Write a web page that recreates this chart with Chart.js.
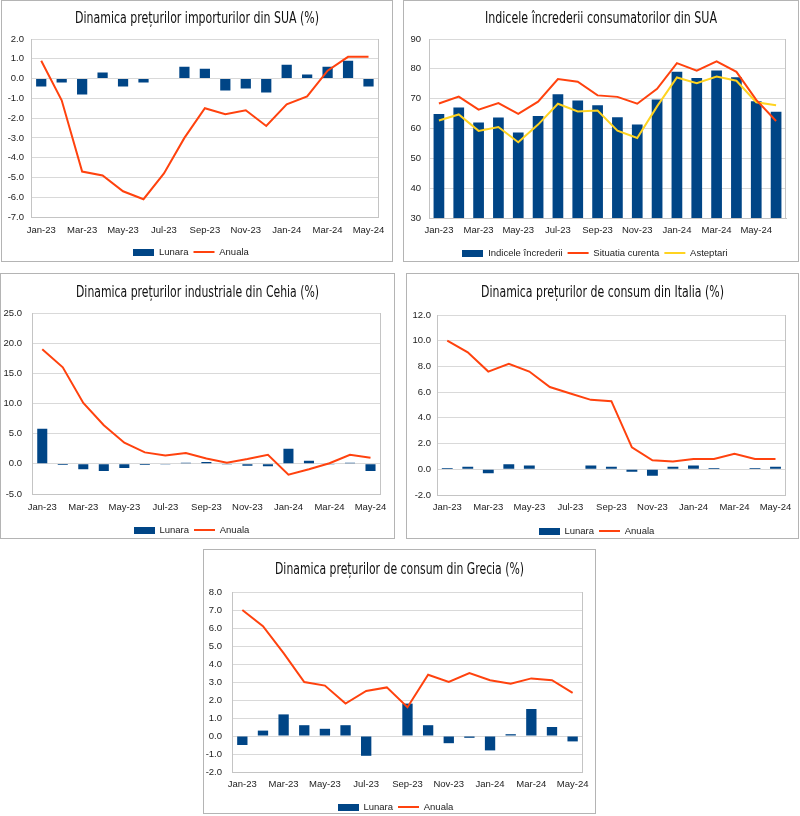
<!DOCTYPE html>
<html lang="ro">
<head>
<meta charset="UTF-8">
<title>Indicatori externi</title>
<script src="https://cdn.jsdelivr.net/npm/chart.js"></script>
<style>
  body { margin: 0; background: #fff; width: 800px; height: 816px; position: relative; overflow: hidden; }
  .box { position: absolute; border: 1px solid #b4b4b4; background: #fff; }
  .box canvas { display: block; }
</style>
</head>
<body>

<div class="box" style="left:1px;top:0px;width:390px;height:260px"><canvas id="c1" width="390" height="260"></canvas></div>
<div class="box" style="left:403px;top:0px;width:394px;height:260px"><canvas id="c2" width="394" height="260"></canvas></div>
<div class="box" style="left:0px;top:273px;width:393px;height:264px"><canvas id="c3" width="393" height="264"></canvas></div>
<div class="box" style="left:406px;top:273px;width:391px;height:264px"><canvas id="c4" width="391" height="264"></canvas></div>
<div class="box" style="left:203px;top:549px;width:391px;height:263px"><canvas id="c5" width="391" height="263"></canvas></div>

<script>
  // luni
  const luni = ['Jan-23', 'Feb-23', 'Mar-23', 'Apr-23', 'May-23', 'Jun-23', 'Jul-23', 'Aug-23', 'Sep-23',
                'Oct-23', 'Nov-23', 'Dec-23', 'Jan-24', 'Feb-24', 'Mar-24', 'Apr-24', 'May-24'];
  const luniIncredere = luni.concat(['Jun-24']);

  // SUA - preturi import
  const suaLunara = [-0.4, -0.2, -0.8, 0.3, -0.4, -0.2, 0.0, 0.6, 0.5, -0.6, -0.5, -0.7, 0.7, 0.2, 0.6, 0.9, -0.4];
  const suaAnuala = [0.9, -1.1, -4.7, -4.9, -5.7, -6.1, -4.8, -3.0, -1.5, -1.8, -1.6, -2.4, -1.3, -0.9, 0.4, 1.1, 1.1];

  // SUA - increderea consumatorilor
  const incredere = [64.9, 67.0, 62.0, 63.7, 58.7, 64.2, 71.5, 69.4, 67.8, 63.8, 61.3, 69.7, 79.0, 76.9, 79.4, 77.2, 69.1, 65.6];
  const situatiaCurenta = [68.4, 70.7, 66.3, 68.5, 64.9, 69.0, 76.6, 75.7, 71.1, 70.6, 68.3, 73.3, 81.9, 79.4, 82.5, 79.0, 69.6, 62.5];
  const asteptari = [62.7, 64.7, 59.2, 60.5, 55.4, 61.3, 68.3, 65.7, 66.0, 59.3, 56.8, 67.4, 77.1, 75.2, 77.4, 76.0, 68.8, 67.8];

  // Cehia - preturi industriale
  const cehiaLunara = [5.8, -0.2, -0.9, -1.2, -0.7, -0.2, -0.1, 0.2, 0.3, -0.1, -0.3, -0.4, 2.5, 0.5, -0.1, 0.2, -1.2];
  const cehiaAnuala = [19.0, 16.0, 10.1, 6.4, 3.5, 1.9, 1.4, 1.8, 0.9, 0.2, 0.8, 1.5, -1.8, -0.9, 0.1, 1.5, 1.0];

  // Italia - preturi de consum
  const italiaLunara = [0.1, 0.2, -0.3, 0.4, 0.3, 0.0, 0.0, 0.3, 0.2, -0.2, -0.5, 0.2, 0.3, 0.1, 0.0, 0.1, 0.2];
  const italiaAnuala = [10.0, 9.1, 7.6, 8.2, 7.6, 6.4, 5.9, 5.4, 5.3, 1.7, 0.7, 0.6, 0.8, 0.8, 1.2, 0.8, 0.8];

  // Grecia - preturi de consum
  const greciaLunara = [-0.5, 0.3, 1.2, 0.6, 0.4, 0.6, -1.1, 0.0, 1.8, 0.6, -0.4, -0.1, -0.8, 0.1, 1.5, 0.5, -0.3];
  const greciaAnuala = [7.0, 6.1, 4.6, 3.0, 2.8, 1.8, 2.5, 2.7, 1.6, 3.4, 3.0, 3.5, 3.1, 2.9, 3.2, 3.1, 2.4];

  const ALBASTRU = '#004586';
  const ROSU = '#ff420e';
  const GALBEN = '#ffd320';
  const TEXT = '#222';
  const FONT = "'Liberation Sans', Arial, sans-serif";
  const FONT_TITLU = "15.5px 'DejaVu Sans Condensed', 'Liberation Sans Narrow', sans-serif";

  Chart.defaults.font.family = FONT;

  // dreptunghi albastru pentru legenda barelor
  const legendaBara = document.createElement('canvas');
  legendaBara.width = 21;
  legendaBara.height = 7;
  const lctx = legendaBara.getContext('2d');
  lctx.fillStyle = ALBASTRU;
  lctx.fillRect(0, 0, 21, 7);

  // chenarul din dreapta al zonei de desen
  const cadruPlot = {
    id: 'cadruPlot',
    beforeDatasetsDraw(chart) {
      const { ctx, chartArea: a } = chart;
      ctx.save();
      ctx.strokeStyle = '#c4c4c4';
      ctx.lineWidth = 1;
      ctx.beginPath();
      ctx.moveTo(Math.round(a.right) - 0.5, a.top);
      ctx.lineTo(Math.round(a.right) - 0.5, a.bottom);
      ctx.stroke();
      ctx.restore();
    }
  };

  // titlu ingust (condensat), centrat deasupra graficului
  const titluIngust = {
    id: 'titluIngust',
    afterDraw(chart, args, opts) {
      const ctx = chart.ctx;
      ctx.save();
      ctx.font = FONT_TITLU;
      const w = ctx.measureText(opts.text).width;
      ctx.translate(chart.width / 2, opts.y);
      ctx.scale(opts.width / w, 1);
      ctx.textAlign = 'center';
      ctx.textBaseline = 'middle';
      ctx.fillStyle = '#111';
      ctx.fillText(opts.text, 0, 0);
      ctx.restore();
    }
  };

  function bara(label, data, lat) {
    return {
      type: 'bar', label: label, data: data, backgroundColor: ALBASTRU,
      barPercentage: lat, categoryPercentage: 1, order: 2, pointStyle: legendaBara
    };
  }

  function linie(label, data, color) {
    return {
      type: 'line', label: label, data: data, borderColor: color, backgroundColor: color,
      borderWidth: 2, pointRadius: 0, pointHoverRadius: 0, pointBorderWidth: 2,
      pointBorderColor: color, pointBackgroundColor: color, pointStyle: 'line',
      tension: 0, order: 1
    };
  }

  function deseneaza(id, cfg) {
    const canvas = document.getElementById(id);
    const W = canvas.width, H = canvas.height;
    const p = cfg.pos;
    const legendaSus = p.legend - 9.75;
    const legendaJos = legendaSus + 24.5;

    new Chart(canvas, {
      type: 'bar',
      data: { labels: cfg.labels, datasets: cfg.datasets },
      options: {
        responsive: false,
        animation: false,
        events: [],
        layout: { padding: { top: p.T, left: 0, right: W - p.R, bottom: H - legendaJos } },
        plugins: {
          titluIngust: { text: cfg.title, y: p.title, width: p.titleW },
          legend: {
            position: 'bottom',
            labels: {
              usePointStyle: true,
              pointStyleWidth: 21,
              padding: 5,
              color: TEXT,
              font: { size: 9.5 },
              sort: (a, b) => a.datasetIndex - b.datasetIndex
            }
          },
          tooltip: { enabled: false }
        },
        scales: {
          x: {
            grid: { display: false, drawTicks: false },
            border: { color: '#c4c4c4' },
            ticks: {
              autoSkip: false,
              maxRotation: 0,
              padding: p.xlab - p.B - 5.7,
              color: TEXT,
              font: { size: 9.5 },
              callback: function (v, i) { return i % 2 === 0 ? this.getLabelForValue(v) : ''; }
            },
            afterFit: s => { s.height = legendaSus - p.B; }
          },
          y: {
            min: cfg.min,
            max: cfg.max,
            grid: { color: '#d9d9d9', drawTicks: false },
            border: { color: '#c4c4c4' },
            ticks: {
              stepSize: cfg.step,
              padding: cfg.yPad,
              color: TEXT,
              font: { size: 9.5 },
              callback: v => v.toFixed(cfg.dec)
            },
            afterFit: s => { s.width = p.L; }
          }
        }
      },
      plugins: [cadruPlot, titluIngust]
    });
  }

  deseneaza('c1', {
    title: 'Dinamica prețurilor importurilor din SUA (%)',
    labels: luni,
    datasets: [bara('Lunara', suaLunara, 0.5), linie('Anuala', suaAnuala, ROSU)],
    min: -7, max: 2, step: 1, dec: 1, yPad: 7,
    pos: { L: 29, T: 38, R: 378, B: 216, title: 17.5, titleW: 244, xlab: 229, legend: 251 }
  });

  deseneaza('c2', {
    title: 'Indicele încrederii consumatorilor din SUA',
    labels: luniIncredere,
    datasets: [
      bara('Indicele încrederii', incredere, 0.54),
      linie('Situatia curenta', situatiaCurenta, ROSU),
      linie('Asteptari', asteptari, GALBEN)
    ],
    min: 30, max: 90, step: 10, dec: 0, yPad: 8,
    pos: { L: 25, T: 38, R: 382, B: 217, title: 17.5, titleW: 232, xlab: 229, legend: 252 }
  });

  deseneaza('c3', {
    title: 'Dinamica prețurilor industriale din Cehia (%)',
    labels: luni,
    datasets: [bara('Lunara', cehiaLunara, 0.49), linie('Anuala', cehiaAnuala, ROSU)],
    min: -5, max: 25, step: 5, dec: 1, yPad: 10,
    pos: { L: 31, T: 39, R: 381, B: 220, title: 18.5, titleW: 243, xlab: 233, legend: 256 }
  });

  deseneaza('c4', {
    title: 'Dinamica prețurilor de consum din Italia (%)',
    labels: luni,
    datasets: [bara('Lunara', italiaLunara, 0.53), linie('Anuala', italiaAnuala, ROSU)],
    min: -2, max: 12, step: 2, dec: 1, yPad: 6,
    pos: { L: 30, T: 41, R: 379, B: 221, title: 18.5, titleW: 243, xlab: 233, legend: 257 }
  });

  deseneaza('c5', {
    title: 'Dinamica prețurilor de consum din Grecia (%)',
    labels: luni,
    datasets: [bara('Lunara', greciaLunara, 0.5), linie('Anuala', greciaAnuala, ROSU)],
    min: -2, max: 8, step: 1, dec: 1, yPad: 10,
    pos: { L: 28, T: 42, R: 383, B: 222, title: 19.5, titleW: 249, xlab: 234, legend: 257 }
  });
</script>
</body>
</html>
